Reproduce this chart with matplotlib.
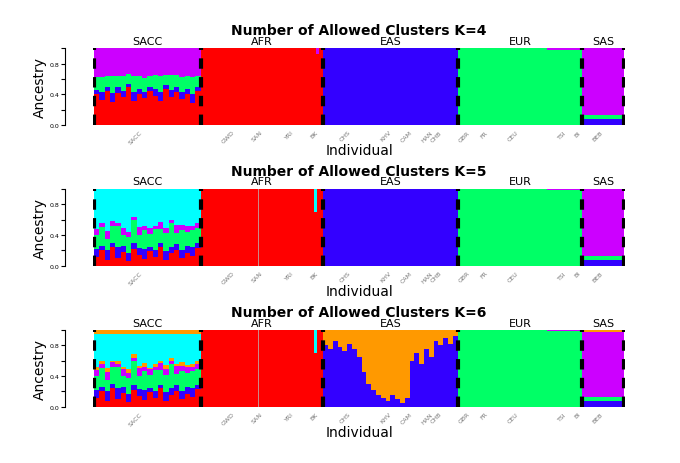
import numpy as np
import matplotlib.pyplot as plt

RED, BLUE, GREEN, PURPLE, CYAN, ORANGE = "#ff0000", "#3300ff", "#00ff66", "#cc00ff", "#00ffff", "#ff9900"

regions = ["SACC", "AFR", "EAS", "EUR", "SAS"]
region_sizes = [107, 123, 135, 125, 42]

pop_labels = ["SACC", "GWD", "SAN", "YRI", "BK", "CHS", "KHV", "CAM", "HAN", "CHB",
              "GBR", "FR", "CEU", "TSI", "BI", "BEB"]
pop_pos = [42, 135, 164, 196, 221, 252, 293, 314, 334, 344, 372, 392, 421, 470, 485, 506]

# SACC admixed individuals (hand-read profiles)
sacc_red4 = [0.40, 0.33, 0.45, 0.30, 0.42, 0.36, 0.50, 0.32, 0.41, 0.35, 0.44, 0.38,
             0.31, 0.47, 0.36, 0.43, 0.34, 0.40, 0.29, 0.45]
sacc_blue4 = [0.06, 0.10, 0.05, 0.12, 0.07, 0.09, 0.04, 0.11, 0.06, 0.08, 0.05, 0.09,
              0.12, 0.05, 0.10, 0.06, 0.09, 0.07, 0.11, 0.05]
sacc_green4 = [0.16, 0.20, 0.14, 0.22, 0.15, 0.19, 0.12, 0.21, 0.17, 0.18, 0.15, 0.18,
               0.21, 0.13, 0.19, 0.16, 0.20, 0.17, 0.22, 0.14]

sacc_red5 = [0.12, 0.20, 0.08, 0.25, 0.10, 0.18, 0.06, 0.22, 0.14, 0.09, 0.19, 0.11,
             0.24, 0.07, 0.16, 0.21, 0.10, 0.17, 0.13, 0.23]
sacc_blue5 = [0.10, 0.06, 0.12, 0.05, 0.14, 0.08, 0.11, 0.07, 0.09, 0.13, 0.06, 0.10,
              0.05, 0.12, 0.08, 0.07, 0.11, 0.09, 0.12, 0.06]
sacc_green5 = [0.18, 0.25, 0.15, 0.22, 0.28, 0.14, 0.20, 0.30, 0.17, 0.24, 0.16, 0.27,
               0.19, 0.23, 0.31, 0.15, 0.26, 0.18, 0.22, 0.20]
sacc_purple5 = [0.08, 0.05, 0.10, 0.06, 0.04, 0.09, 0.07, 0.05, 0.10, 0.06, 0.08, 0.04,
                0.09, 0.07, 0.05, 0.10, 0.06, 0.08, 0.05, 0.07]
sacc_orange6 = [0.04, 0.03, 0.05, 0.02, 0.04, 0.03, 0.05, 0.04, 0.03, 0.05, 0.02, 0.04,
                0.03, 0.05, 0.04, 0.03, 0.05, 0.02, 0.04, 0.03]

# EAS at K=6: orange fraction (top) per column, rest blue
eas_orange6 = [0.20, 0.25, 0.15, 0.22, 0.28, 0.18, 0.25, 0.35, 0.55, 0.70, 0.78, 0.85,
               0.88, 0.92, 0.85, 0.90, 0.95, 0.88, 0.40, 0.30, 0.45, 0.25, 0.35, 0.15,
               0.20, 0.10, 0.18, 0.08]


def sacc_cols(k):
    n = len(sacc_red4)
    if k == 4:
        cols = [[RED, sacc_red4], [BLUE, sacc_blue4], [GREEN, sacc_green4]]
        top = PURPLE
    else:
        cols = [[RED, sacc_red5], [BLUE, sacc_blue5], [GREEN, sacc_green5], [PURPLE, sacc_purple5]]
        if k == 6:
            cols.append([ORANGE, sacc_orange6])
        top = CYAN
    return n, cols, top


def draw_panel(ax, k):
    x0 = 0
    # SACC
    n, cols, top = sacc_cols(k)
    w = region_sizes[0] / n
    xs = x0 + w * np.arange(n)
    bottom = np.zeros(n)
    for c, v in cols:
        v = np.array(v)
        ax.bar(xs, v, w, bottom=bottom, color=c, align="edge", linewidth=0)
        bottom += v
    if k == 6:
        ax.bar(xs, 1 - bottom - 0.06, w, bottom=bottom, color=top, align="edge", linewidth=0)
        ax.bar(xs, 0.06, w, bottom=1 - 0.06, color=ORANGE, align="edge", linewidth=0)
    else:
        ax.bar(xs, 1 - bottom, w, bottom=bottom, color=top, align="edge", linewidth=0)
    x0 += region_sizes[0]
    # AFR
    ax.bar(x0, 1, region_sizes[1], color=RED, align="edge", linewidth=0)
    if k >= 5:
        ax.bar(x0 + 58, 1, 0.6, color="#cc8888", align="edge", linewidth=0)
        ax.bar(x0 + 114, 0.3, 3, bottom=0.7, color=CYAN, align="edge", linewidth=0)
    else:
        ax.bar(x0 + 116, 0.08, 3, bottom=0.92, color=PURPLE, align="edge", linewidth=0)
    x0 += region_sizes[1]
    # EAS
    if k == 6:
        n = len(eas_orange6)
        w = region_sizes[2] / n
        xs = x0 + w * np.arange(n)
        o = np.array(eas_orange6)
        ax.bar(xs, 1 - o, w, color=BLUE, align="edge", linewidth=0)
        ax.bar(xs, o, w, bottom=1 - o, color=ORANGE, align="edge", linewidth=0)
    else:
        ax.bar(x0, 1, region_sizes[2], color=BLUE, align="edge", linewidth=0)
    x0 += region_sizes[2]
    # EUR
    ax.bar(x0, 1, region_sizes[3], color=GREEN, align="edge", linewidth=0)
    ax.bar(x0 + 90, 0.02, 35, bottom=0.98, color=PURPLE, align="edge", linewidth=0)
    x0 += region_sizes[3]
    # SAS
    ax.bar(x0, 0.08, region_sizes[4], color=BLUE, align="edge", linewidth=0)
    ax.bar(x0, 0.05, region_sizes[4], bottom=0.08, color=GREEN, align="edge", linewidth=0)
    ax.bar(x0, 0.87, region_sizes[4], bottom=0.13, color=PURPLE, align="edge", linewidth=0)
    if k == 6:
        ax.bar(x0, 0.03, region_sizes[4], bottom=0.97, color=ORANGE, align="edge", linewidth=0)

    edges = np.concatenate([[0], np.cumsum(region_sizes)])
    for e in edges:
        ax.axvline(e, color="black", lw=3, ls=(0, (2.5, 2)), ymin=0, ymax=1)
    centers = (edges[:-1] + edges[1:]) / 2
    for c, r in zip(centers, regions):
        ax.text(c, 1.03, r, ha="center", va="bottom", fontsize=8)
    ax.set_xlim(-1, sum(region_sizes) + 1)
    ax.set_ylim(0, 1)
    ax.set_xticks(pop_pos)
    ax.set_xticklabels(pop_labels, rotation=45, color="#777777")
    ax.tick_params(axis="x", length=0, pad=3, labelsize=4.5)
    ax.set_yticks([0, 0.2, 0.4, 0.6, 0.8, 1.0])
    ax.set_yticklabels(["0.0", "", "0.4", "", "0.8", ""], rotation=90, va="center")
    ax.tick_params(axis="y", length=3, width=0.8, pad=1, labelsize=4.5)
    for s in ["top", "right", "bottom"]:
        ax.spines[s].set_visible(False)
    ax.spines["left"].set_position(("outward", 20))
    ax.set_ylabel("Ancestry", fontsize=10, labelpad=2)
    ax.set_xlabel("Individual", fontsize=10, labelpad=-1)
    ax.set_title(f"Number of Allowed Clusters K={k}", fontsize=10, fontweight="bold", pad=10)


fig = plt.figure(figsize=(6.8, 4.64), dpi=100)
for k, b in zip([4, 5, 6], [0.728, 0.425, 0.121]):
    ax = fig.add_axes([0.137, b, 0.782, 0.166])
    draw_panel(ax, k)
fig.savefig("out.png")
